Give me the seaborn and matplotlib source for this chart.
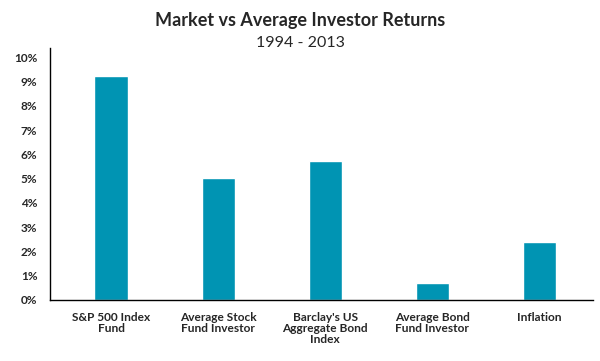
import matplotlib
matplotlib.use("Agg")
import matplotlib.pyplot as plt
import seaborn as sns
import pandas as pd

categories = ["S&P 500 Index\nFund", "Average Stock\nFund Investor", "Barclay's US\nAggregate Bond\nIndex",
              "Average Bond\nFund Investor", "Inflation"]
returns = [9.22, 5.02, 5.74, 0.71, 2.37]
yticks = list(range(0, 11))
ytick_labels = [f"{v}%" for v in yticks]

df = pd.DataFrame({"category": categories, "ret": returns})

sns.set_style("white")
plt.rcParams["font.family"] = ["Lato", "DejaVu Sans"]

fig = plt.figure(figsize=(6, 3.61), dpi=100)
ax = fig.add_axes([0.0833, 0.169, 0.905, 0.698])
sns.barplot(data=df, x="category", y="ret", color="#0094b3", saturation=1, width=0.31, ax=ax)

ax.set_ylim(0, 10.38)
ax.set_xlim(-0.57, 4.5)
ax.set_yticks(yticks)
ax.set_yticklabels(ytick_labels, fontsize=8.5, fontweight="bold")
ax.tick_params(axis="y", length=0, pad=9)
ax.tick_params(axis="x", length=0, pad=9)
for lab in ax.get_xticklabels():
    lab.set_fontsize(8.6)
    lab.set_fontweight("bold")
    lab.set_linespacing(1.0)
ax.set_xlabel("")
ax.set_ylabel("")
sns.despine(ax=ax)
for s in ("left", "bottom"):
    ax.spines[s].set_color("black")
    ax.spines[s].set_linewidth(1.0)

fig.text(0.5, 0.942, "Market vs Average Investor Returns", ha="center", va="center",
         fontsize=13, fontweight="bold")
fig.text(0.5, 0.882, "1994 - 2013", ha="center", va="center", fontsize=11.5)

fig.savefig("out.png", dpi=100)
